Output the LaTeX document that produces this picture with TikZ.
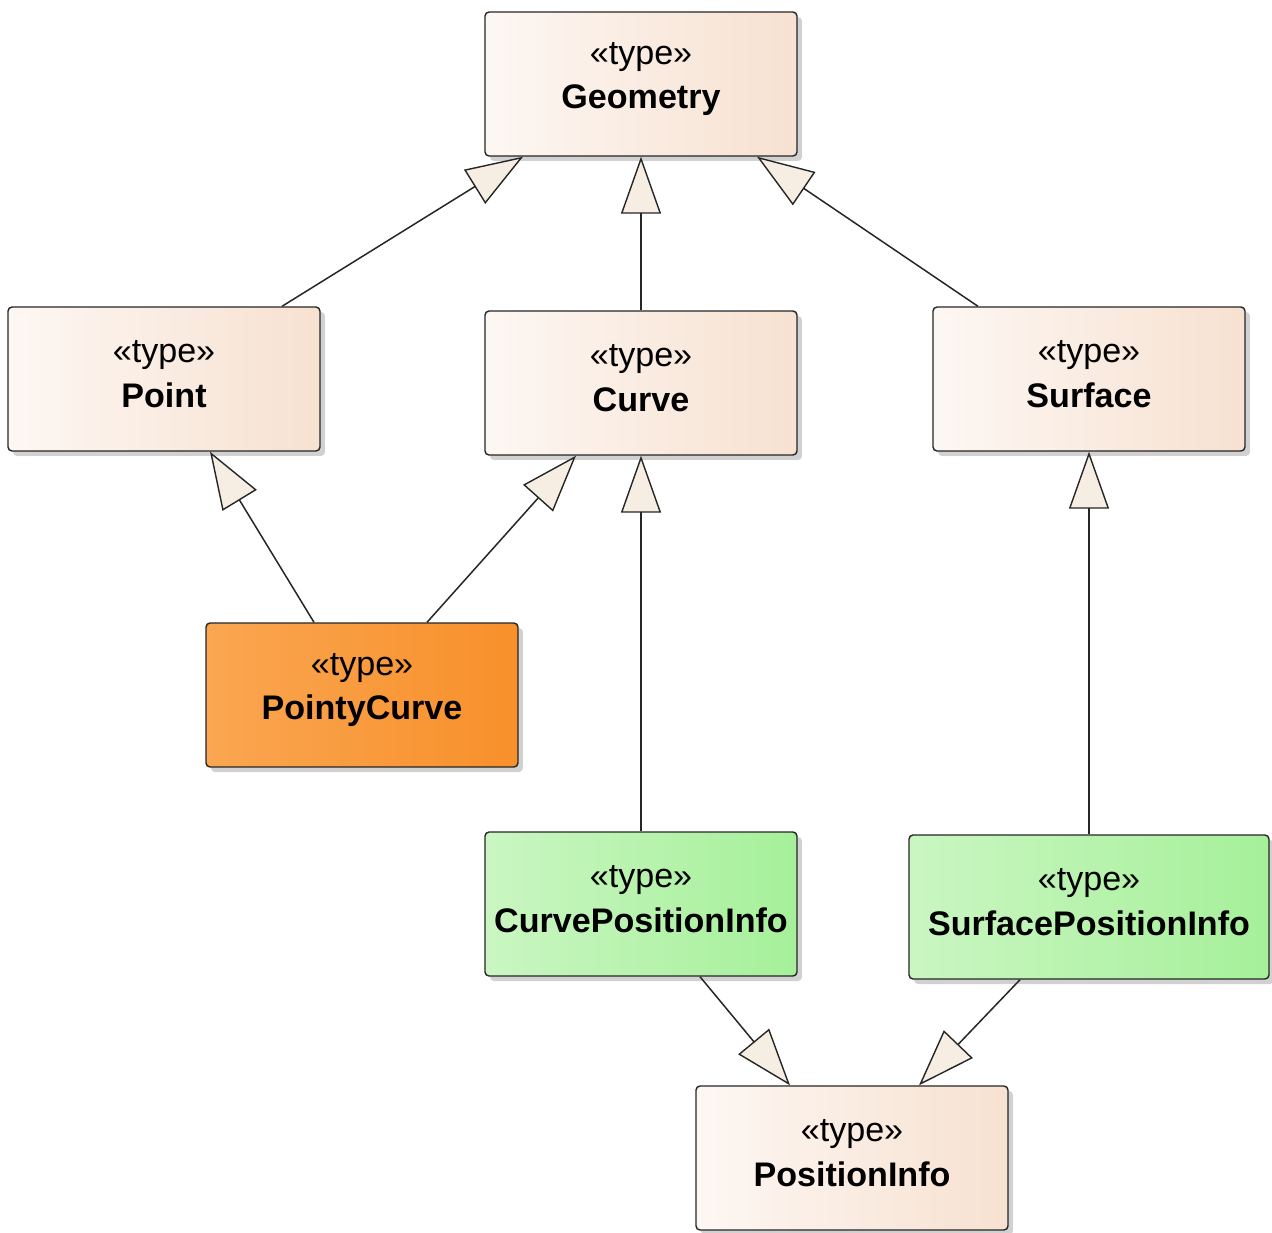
\documentclass[tikz,border=0pt]{standalone}
\usepackage{fontspec}
\setmainfont{Liberation Sans}
\usetikzlibrary{arrows.meta,shadows,calc}

\definecolor{edgecol}{RGB}{38,38,38}
\definecolor{headfill}{RGB}{246,238,226}
\definecolor{beigeL}{RGB}{253,247,243}
\definecolor{beigeR}{RGB}{247,225,209}
\definecolor{orangeL}{RGB}{250,166,82}
\definecolor{orangeR}{RGB}{248,144,42}
\definecolor{greenL}{RGB}{202,246,194}
\definecolor{greenR}{RGB}{166,240,154}

\begin{document}
\begin{tikzpicture}[x=0.02cm,y=-0.02cm,
  box/.style={draw=edgecol, line width=0.8pt, rounded corners=0.08cm,
    minimum width=6.24cm, minimum height=2.88cm, inner sep=0pt,
    drop shadow={shadow xshift=0.1cm, shadow yshift=-0.1cm, opacity=0.18, fill=black}},
  beigebox/.style={box, left color=beigeL, right color=beigeR},
  orangebox/.style={box, left color=orangeL, right color=orangeR},
  greenbox/.style={box, left color=greenL, right color=greenR},
  lbl/.style={align=center, inner sep=0pt, font=\fontsize{19.4}{25.5}\selectfont},
  gen/.style={draw=edgecol, line width=0.85pt,
    -{Triangle[length=1.14cm, width=0.8cm, fill=headfill, line width=0.8pt]}}
]
\fill[white] (0,0) rectangle (1272,1232);
\useasboundingbox (0,0) rectangle (1272,1232);

% classes
\node[beigebox] (geom) at (641,84) {};
\node[lbl] (geomT) at ($(geom)+(0,-5)$) {«type»\\\textbf{Geometry}};

\node[beigebox] (point) at (164,379) {};
\node[lbl] (pointT) at ($(point)+(0,-5)$) {«type»\\\textbf{Point}};

\node[beigebox] (curve) at (641,383) {};
\node[lbl] (curveT) at ($(curve)+(0,-5)$) {«type»\\\textbf{Curve}};

\node[beigebox] (surf) at (1089,379) {};
\node[lbl] (surfT) at ($(surf)+(0,-5)$) {«type»\\\textbf{Surface}};

\node[orangebox] (pcurve) at (362,695) {};
\node[lbl] (pcurveT) at ($(pcurve)+(0,-5)$) {«type»\\\textbf{PointyCurve}};

\node[greenbox] (cpi) at (641,904) {};
\node[lbl] (cpiT) at ($(cpi)+(0,-5)$) {«type»\\\textbf{CurvePositionInfo}};

\node[greenbox, minimum width=7.2cm] (spi) at (1089,907) {};
\node[lbl] (spiT) at ($(spi)+(0,-5)$) {«type»\\\textbf{SurfacePositionInfo}};

\node[beigebox] (pinfo) at (852,1158) {};
\node[lbl] (pinfoT) at ($(pinfo)+(0,-5)$) {«type»\\\textbf{PositionInfo}};

% generalizations
\draw[gen] ($(point.north)+(118,0)$) -- ($(geom.south)+(-118,0)$);
\draw[gen] (curve.north) -- (geom.south);
\draw[gen] ($(surf.north)+(-111,0)$) -- ($(geom.south)+(116,0)$);
\draw[gen] ($(pcurve.north)+(-48,0)$) -- ($(point.south)+(46,0)$);
\draw[gen] ($(pcurve.north)+(65,0)$) -- ($(curve.south)+(-65,0)$);
\draw[gen] (cpi.north) -- (curve.south);
\draw[gen] (spi.north) -- (surf.south);
\draw[gen] ($(cpi.south)+(59,0)$) -- ($(pinfo.north)+(-62,0)$);
\draw[gen] ($(spi.south)+(-69,0)$) -- ($(pinfo.north)+(67,0)$);
\end{tikzpicture}
\end{document}
